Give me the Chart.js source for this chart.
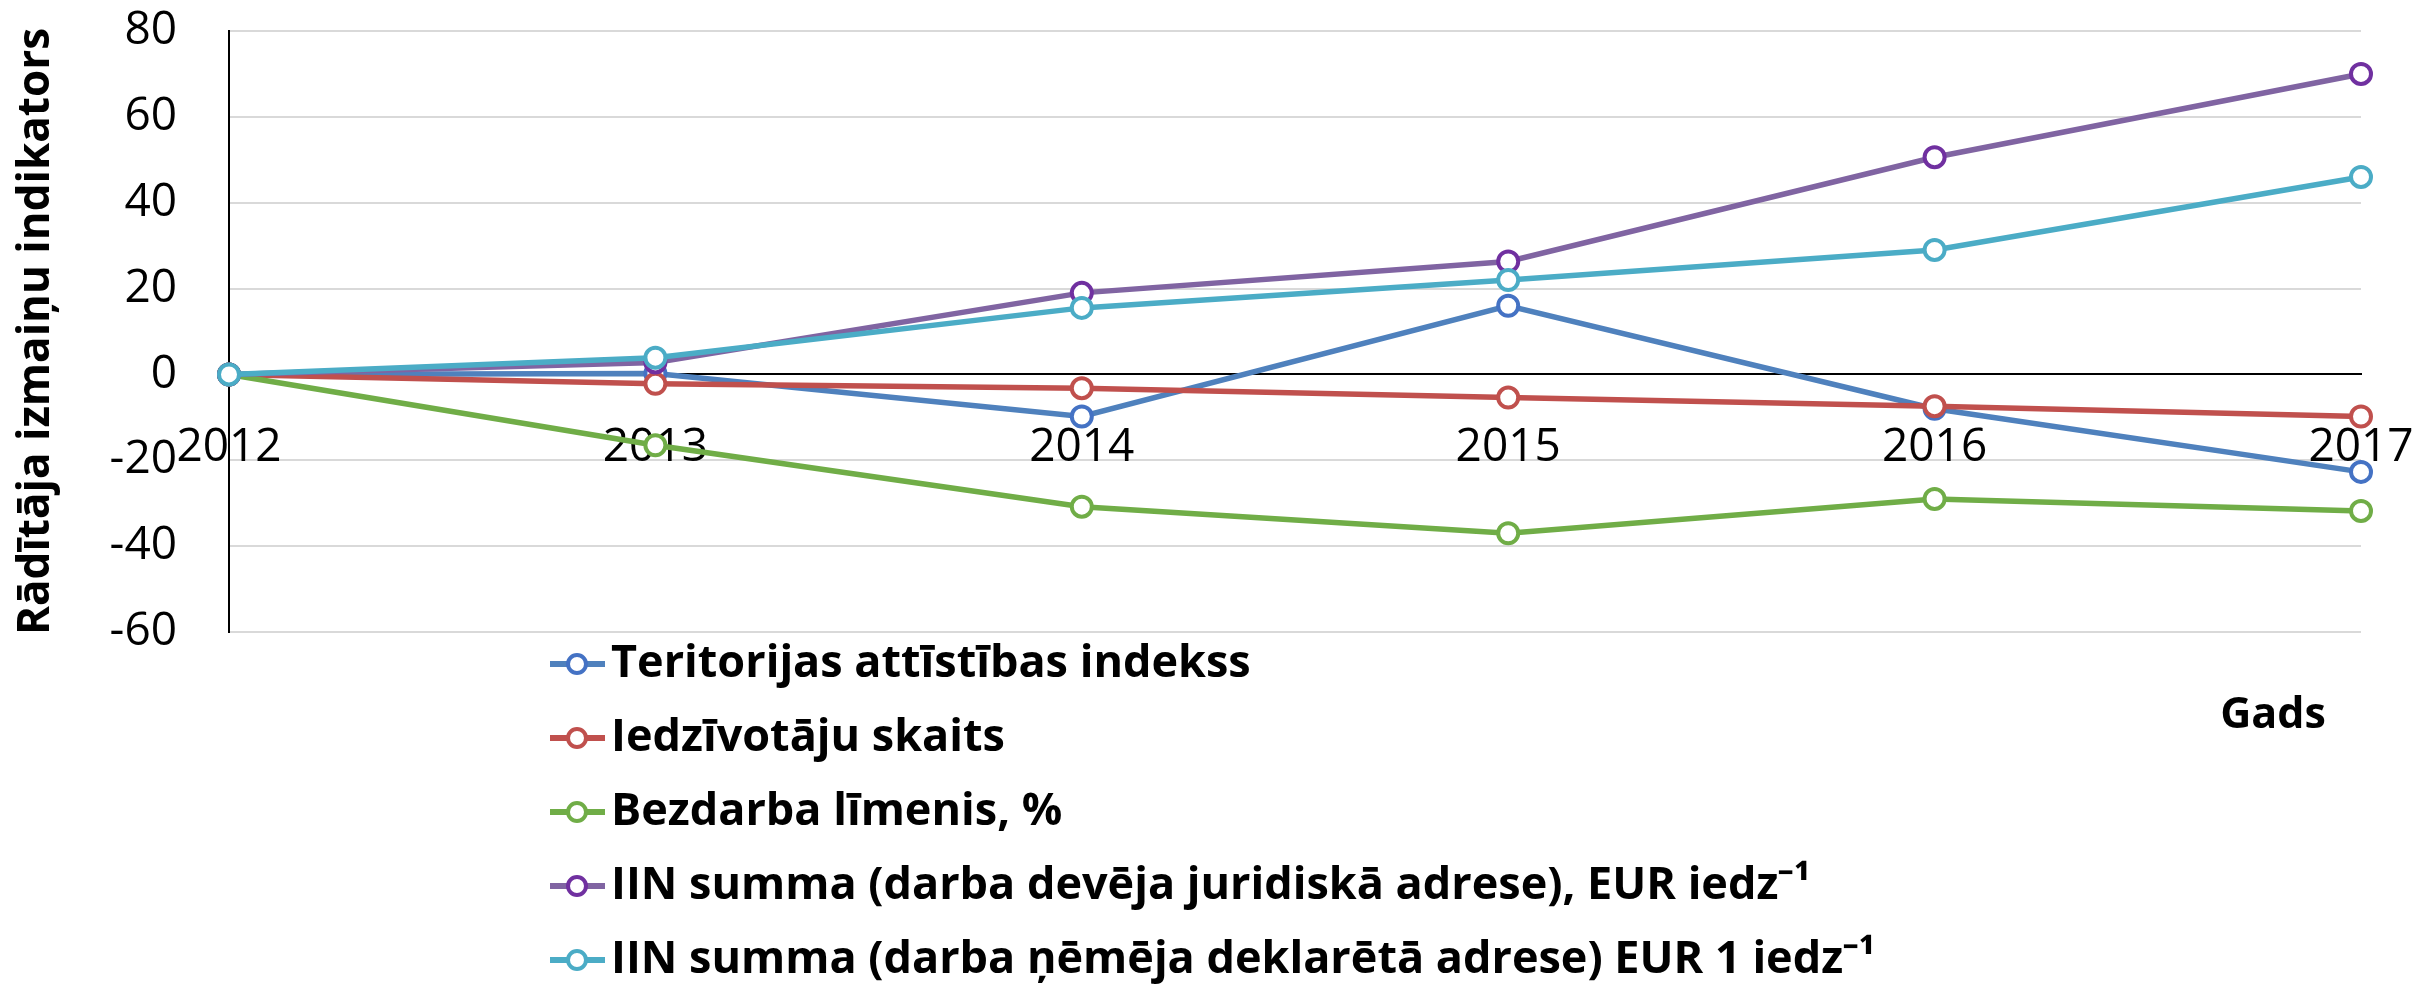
<!DOCTYPE html>
<html>
<head>
<meta charset="utf-8">
<script src="https://cdn.jsdelivr.net/npm/chart.js@4.4.0/dist/chart.umd.min.js"></script>
<style>
  html, body { margin: 0; padding: 0; background: #fff; }
  #wrap { width: 2413px; height: 986px; }
</style>
</head>
<body>
<div id="wrap"><canvas id="chart" width="2413" height="986"></canvas></div>
<script>
// years on the x axis
const years = ['2012', '2013', '2014', '2015', '2016', '2017'];

// series values
const teritorijas = [0, 0.2, -9.8, 16.0, -8.0, -22.7];
const iedzivotaji = [0, -2.2, -3.2, -5.4, -7.4, -9.8];
const bezdarbs = [0, -16.5, -30.8, -37.0, -29.0, -31.8];
const iinDevejs = [0, 2.8, 19.0, 26.3, 50.6, 70.0];
const iinNemejs = [0, 3.9, 15.5, 22.0, 29.0, 46.0];

// series names
const seriesNames = [
  'Teritorijas attīstības indekss',
  'Iedzīvotāju skaits',
  'Bezdarba līmenis, %',
  'IIN summa (darba devēja juridiskā adrese), EUR iedz⁻¹',
  'IIN summa (darba ņēmēja deklarētā adrese) EUR 1 iedz⁻¹'
];

// y axis range
const yMin = -60;
const yMax = 80;
const yStep = 20;

const lineColors = ['#4F81BD', '#C0504D', '#70AD47', '#8064A2', '#4BACC6'];
const markColors = ['#4472C4', '#C0504D', '#70AD47', '#7030A0', '#4BACC6'];
const allValues = [teritorijas, iedzivotaji, bezdarbs, iinDevejs, iinNemejs];

function makeDataset(i){
  return {
    label: seriesNames[i],
    data: allValues[i],
    borderColor: lineColors[i],
    borderWidth: 5.5,
    pointRadius: 10,
    pointHoverRadius: 10,
    pointBorderWidth: 4,
    pointBackgroundColor: '#fff',
    pointBorderColor: markColors[i],
    tension: 0,
    order: 4 - i
  };
}

// no automatic padding from the axes, layout padding does it
function noPad(scale){
  scale.paddingLeft = 0; scale.paddingRight = 0;
  scale.paddingTop = 0; scale.paddingBottom = 0;
}

// legend drawn one per line under the chart, like the original
const stackedLegend = {
  id: 'stackedLegend',
  afterDraw(chart){
    const c = chart.ctx;
    c.save();
    chart.data.datasets.forEach((ds, i) => {
      const y = 664 + i * 74;
      c.strokeStyle = ds.borderColor;
      c.lineWidth = 6;
      c.beginPath(); c.moveTo(550, y); c.lineTo(605, y); c.stroke();
      c.beginPath(); c.arc(577, y, 9, 0, Math.PI * 2);
      c.fillStyle = '#fff'; c.fill();
      c.lineWidth = 4; c.strokeStyle = ds.pointBorderColor; c.stroke();
      c.fillStyle = '#000';
      c.font = 'bold 45px "Open Sans"';
      c.textBaseline = 'middle';
      c.textAlign = 'left';
      c.fillText(ds.label, 611, y);
    });
    // axis name at the bottom right
    c.font = 'bold 43px "Open Sans"';
    c.textAlign = 'center';
    c.fillText('Gads', 2273, 716);
    c.restore();
  }
};

new Chart(document.getElementById('chart'), {
  type: 'line',
  data: { labels: years, datasets: [0, 1, 2, 3, 4].map(makeDataset) },
  options: {
    responsive: false,
    animation: false,
    layout: { padding: { top: 31, bottom: 354, left: 0, right: 52 } },
    plugins: { legend: { display: false }, tooltip: { enabled: false } },
    scales: {
      x: {
        position: { y: 0 },
        offset: false,
        afterFit: noPad,
        grid: { display: false },
        border: { display: true, color: '#000', width: 2 },
        ticks: { color: '#000', font: { family: 'Open Sans', size: 46 }, padding: 38, maxRotation: 0, autoSkip: false }
      },
      y: {
        min: yMin, max: yMax,
        afterFit(scale){ noPad(scale); scale.width = 229; },
        grid: {
          drawTicks: false, lineWidth: 2,
          color: ctx => ctx.tick && ctx.tick.value === 0 ? '#000' : '#D9D9D9'
        },
        border: { display: true, color: '#000', width: 2 },
        ticks: { stepSize: yStep, color: '#000', font: { family: 'Open Sans', size: 46 }, padding: 52 },
        title: {
          display: true, text: 'Rādītāja izmaiņu indikators', color: '#000',
          font: { family: 'Open Sans', size: 44, weight: 'bold' }, padding: { top: 10, bottom: 0 }
        }
      }
    }
  },
  plugins: [stackedLegend]
});
</script>
</body>
</html>
